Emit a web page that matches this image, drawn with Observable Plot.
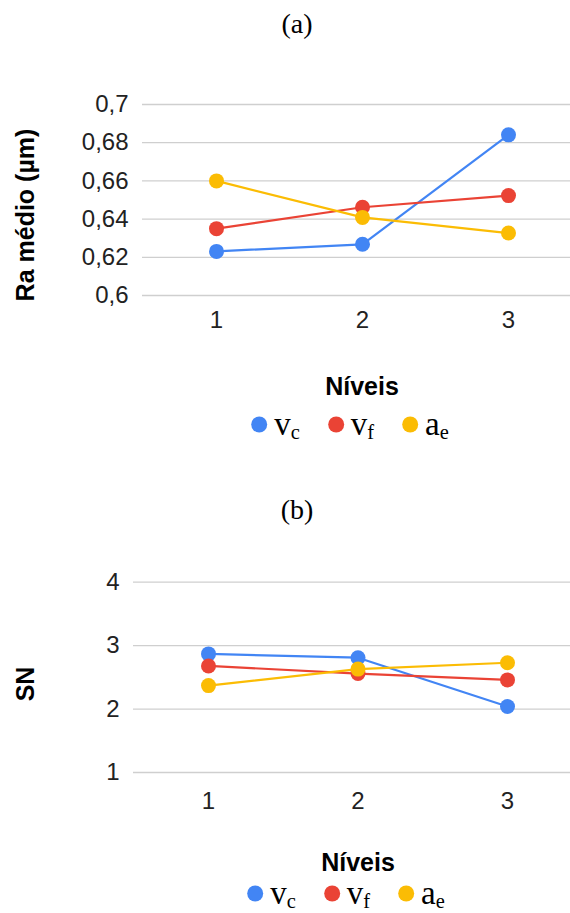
<!DOCTYPE html>
<html>
<head>
<meta charset="utf-8">
<script src="https://cdn.jsdelivr.net/npm/d3@7"></script>
<script src="https://cdn.jsdelivr.net/npm/@observablehq/plot@0.6"></script>
<style>
  html, body { margin: 0; padding: 0; background: #fff; }
  #page { position: relative; width: 570px; height: 913px; overflow: hidden;
          font-family: "Liberation Sans", Arial, sans-serif; color: #222; }
  .abs { position: absolute; }
  .panel-tag { font-family: "Liberation Serif", "Times New Roman", serif; font-size: 28px;
               color: #000; transform: translate(-50%, -50%); white-space: nowrap; line-height: 1; }
  .ytitle { font-weight: bold; font-size: 25px; color: #000; white-space: nowrap; line-height: 1;
            transform: translate(-50%, -50%) rotate(-90deg); }
  .xtitle { font-weight: bold; font-size: 25px; color: #000; transform: translate(-50%, -50%);
            white-space: nowrap; line-height: 1; }
  .legend { display: flex; align-items: center; gap: 28px; transform: translate(-50%, -50%);
            white-space: nowrap; }
  .legend .item { display: flex; align-items: center; }
  .legend .sw { width: 16px; height: 16px; border-radius: 50%; margin-right: 7px; }
  .legend .lab { font-family: "Liberation Serif", "Times New Roman", serif; font-size: 33px;
                 color: #000; line-height: 1; }
  .legend .lab sub { font-size: 0.62em; vertical-align: -0.22em; line-height: 0; }
</style>
</head>
<body>
<div id="page"></div>
<script>
// Factor levels on the x axis
const levels = [1, 2, 3];

// Mean roughness Ra (µm) per level for each factor
const raVc = [0.6231, 0.6268, 0.6841];
const raVf = [0.6350, 0.6462, 0.6523];
const raAe = [0.6600, 0.6409, 0.6327];

// Signal-to-noise ratio per level for each factor
const snVc = [2.87, 2.81, 2.04];
const snVf = [2.68, 2.56, 2.46];
const snAe = [2.37, 2.63, 2.73];

// Axis ticks
const raTicks = [0.6, 0.62, 0.64, 0.66, 0.68, 0.7];
const snTicks = [1, 2, 3, 4];

// Series: key, subscripted label parts, colour
const seriesKeys = ["vc", "vf", "ae"];
const seriesBase = ["v", "v", "a"];
const seriesSub = ["c", "f", "e"];
const seriesColors = ["#4285F4", "#EA4335", "#FBBC04"];

const page = document.getElementById("page");

function rows(valuesBySeries) {
  const out = [];
  seriesKeys.forEach((k, i) => {
    levels.forEach((lv, j) => out.push({ series: k, level: lv, value: valuesBySeries[i][j] }));
  });
  return out;
}

function addDiv(cls, left, top, html) {
  const d = document.createElement("div");
  d.className = "abs " + cls;
  d.style.left = left + "px";
  d.style.top = top + "px";
  d.innerHTML = html;
  page.appendChild(d);
  return d;
}

function addLegend(cx, cy) {
  const items = seriesKeys.map((k, i) =>
    `<div class="item"><div class="sw" style="background:${seriesColors[i]}"></div>` +
    `<div class="lab">${seriesBase[i]}<sub>${seriesSub[i]}</sub></div></div>`).join("");
  addDiv("legend", cx, cy, items);
}

function chart(opts) {
  const data = rows(opts.values);
  const svg = Plot.plot({
    width: 570,
    height: opts.height,
    marginLeft: opts.marginLeft,
    marginRight: 0,
    marginTop: opts.marginTop,
    marginBottom: opts.marginBottom,
    style: { fontFamily: "'Liberation Sans', Arial, sans-serif", fontSize: "24px", color: "#222", background: "transparent" },
    x: { type: "linear", domain: [1, 3], range: opts.xRange },
    y: { domain: opts.yDomain },
    color: { domain: seriesKeys, range: seriesColors },
    marks: [
      Plot.ruleY(opts.ticks, { stroke: "#cfcfcf", strokeWidth: 1.3 }),
      Plot.axisY({ ticks: opts.ticks, tickSize: 0, tickPadding: opts.yPad, label: null,
                   tickFormat: opts.yFormat, fill: "#222" }),
      Plot.axisX({ ticks: levels, tickSize: 0, tickPadding: opts.xPad, label: null,
                   tickFormat: d => String(d), fill: "#222" }),
      Plot.line(data, { x: "level", y: "value", z: "series", stroke: "series", strokeWidth: 2.2 }),
      Plot.dot(data, { x: "level", y: "value", fill: "series", r: 7.5 })
    ]
  });
  svg.style.position = "absolute";
  svg.style.left = "0px";
  svg.style.top = opts.top + "px";
  page.appendChild(svg);
}

// (a) mean roughness
addDiv("panel-tag", 297, 24, "(a)");
chart({
  top: 80, height: 260, marginLeft: 142, marginTop: 24, marginBottom: 45,
  xRange: [216, 508], yDomain: [0.6, 0.7], ticks: raTicks, values: [raVc, raVf, raAe],
  yPad: 14, xPad: 15, yFormat: d => String(+d.toFixed(2)).replace(".", ",")
});
addDiv("ytitle", 25, 215, "Ra médio (µm)");
addDiv("xtitle", 362, 386, "Níveis");
addLegend(350, 424);

// (b) signal-to-noise ratio
addDiv("panel-tag", 297, 510, "(b)");
chart({
  top: 560, height: 260, marginLeft: 133, marginTop: 21.7, marginBottom: 48,
  xRange: [208, 507], yDomain: [1, 4], ticks: snTicks, values: [snVc, snVf, snAe],
  yPad: 14, xPad: 19, yFormat: d => String(d)
});
addDiv("ytitle", 25, 684, "SN");
addDiv("xtitle", 358, 862, "Níveis");
addLegend(346, 893);
</script>
</body>
</html>
